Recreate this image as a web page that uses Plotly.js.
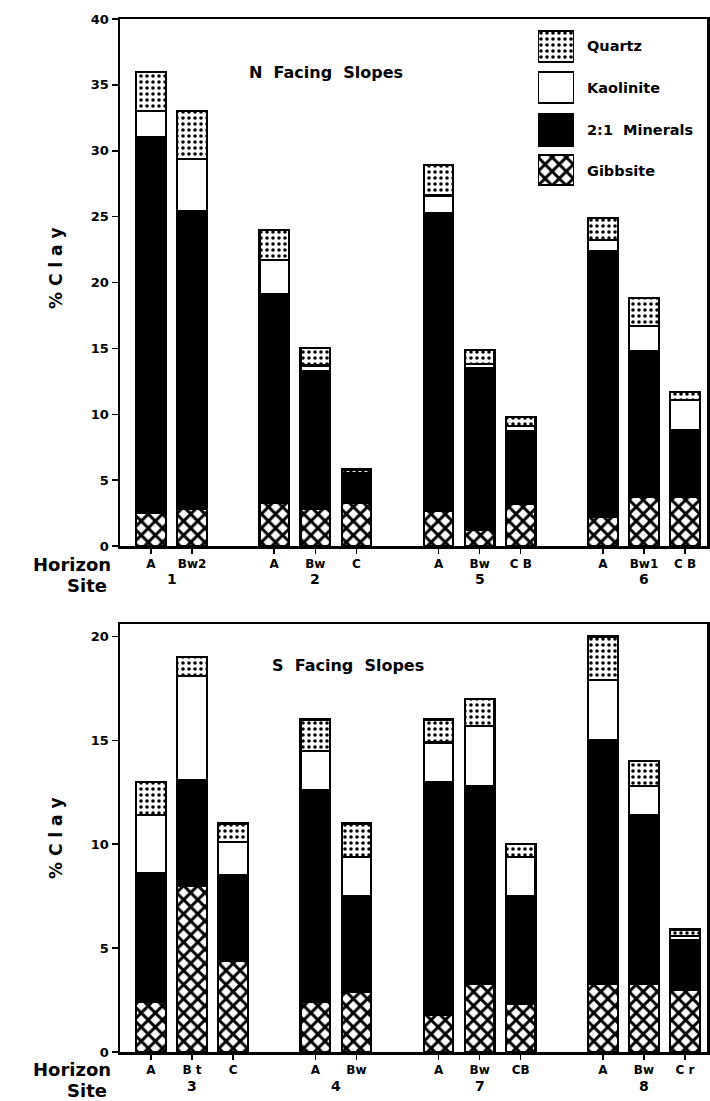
<!DOCTYPE html>
<html>
<head>
<meta charset="utf-8">
<script src="https://cdn.plot.ly/plotly-3.0.1.min.js"></script>
<style>html,body{margin:0;padding:0;background:#fff;}#chart{width:710px;height:1101px;}</style>
</head>
<body>
<div id="chart"></div>
<script>
// ---- N facing slopes (top panel) ----
const topPos = [0, 1, 3, 4, 5, 7, 8, 9, 11, 12, 13];
const topHorizon = ['A', 'Bw2', 'A', 'Bw', 'C', 'A', 'Bw', 'C B', 'A', 'Bw1', 'C B'];
const topGibbsite = [2.5, 2.8, 3.3, 2.8, 3.3, 2.7, 1.2, 3.2, 2.2, 3.7, 3.7];
const topMinerals21 = [28.5, 22.6, 15.8, 10.5, 2.0, 22.6, 12.3, 5.5, 20.2, 11.1, 5.1];
const topKaolinite = [2.0, 4.0, 2.6, 0.4, 0.2, 1.3, 0.3, 0.4, 0.8, 1.9, 2.3];
const topQuartz = [3.0, 3.6, 2.3, 1.3, 0.3, 2.3, 1.1, 0.7, 1.7, 2.1, 0.6];
const topSites = ['1', '2', '5', '6'];
const topSiteCenters = [0.5, 4, 8, 12];

// ---- S facing slopes (bottom panel) ----
const botPos = [0, 1, 2, 4, 5, 7, 8, 9, 11, 12, 13];
const botHorizon = ['A', 'B t', 'C', 'A', 'Bw', 'A', 'Bw', 'CB', 'A', 'Bw', 'C r'];
const botGibbsite = [2.4, 8.0, 4.4, 2.4, 2.9, 1.8, 3.3, 2.3, 3.3, 3.3, 3.0];
const botMinerals21 = [6.2, 5.1, 4.1, 10.2, 4.6, 11.2, 9.5, 5.2, 11.7, 8.1, 2.4];
const botKaolinite = [2.8, 5.0, 1.6, 1.9, 1.9, 1.9, 2.9, 1.9, 2.9, 1.4, 0.2];
const botQuartz = [1.6, 0.9, 0.9, 1.5, 1.6, 1.1, 1.3, 0.6, 2.1, 1.2, 0.3];
const botSites = ['3', '4', '7', '8'];
const botSiteCenters = [1, 4.5, 8, 12];

const mineralNames = ['Gibbsite', '2:1  Minerals', 'Kaolinite', 'Quartz'];

// ---- styles ----
const FONT = 'DejaVu Sans';
const outline = {color: 'black', width: 2.2};
const styles = {
  'Gibbsite': {color: 'white', pattern: {shape: 'x', fgcolor: 'black', bgcolor: 'white', size: 10, solidity: 0.5}},
  '2:1  Minerals': {color: 'black'},
  'Kaolinite': {color: 'white'},
  'Quartz': {color: 'white', pattern: {shape: '.', fgcolor: 'black', bgcolor: 'white', size: 6, solidity: 0.28}}
};

function marker(name) {
  const s = styles[name];
  const m = {color: s.color, line: outline};
  if (s.pattern) m.pattern = s.pattern;
  return m;
}

const traces = [];
const topSeries = [topGibbsite, topMinerals21, topKaolinite, topQuartz];
const botSeries = [botGibbsite, botMinerals21, botKaolinite, botQuartz];
mineralNames.forEach((name, i) => {
  traces.push({type: 'bar', x: topPos, y: topSeries[i], name: name, width: 0.72,
    marker: marker(name), xaxis: 'x', yaxis: 'y', showlegend: false, hoverinfo: 'skip'});
});
mineralNames.forEach((name, i) => {
  traces.push({type: 'bar', x: botPos, y: botSeries[i], name: name, width: 0.72,
    marker: marker(name), xaxis: 'x2', yaxis: 'y2', showlegend: false, hoverinfo: 'skip'});
});

// Legend swatches drawn as bars on a hidden overlay axis (units = pixels)
const legendOrder = ['Quartz', 'Kaolinite', '2:1  Minerals', 'Gibbsite'];
const swatchBase = [125, 84, 41, 2];
const swatchH = [31, 31, 32, 30];
legendOrder.forEach((name, i) => {
  traces.push({type: 'bar', x: [0], y: [swatchH[i]], base: [swatchBase[i]], width: 1,
    marker: marker(name), xaxis: 'x3', yaxis: 'y3', showlegend: false, hoverinfo: 'skip'});
});

// pixel helpers for layout (plot area: left 120, right 707, top 18, bottom 1052)
const L = 120, R = 707, T = 18, B = 1052;
const px = p => (p - L) / (R - L);
const py = p => (B - p) / (B - T);

const tickFont = {family: FONT, size: 12, color: 'black', weight: 'bold'};
const xRange = [(L - 151) / 41.08, (R - 151) / 41.08];

function xAxis(pos, labels, anchor) {
  return {range: xRange, tickmode: 'array', tickvals: pos, ticktext: labels,
    ticks: 'outside', ticklen: 5, tickwidth: 1.5, tickcolor: 'black',
    showline: true, linecolor: 'black', linewidth: 2.5, mirror: true,
    showgrid: false, zeroline: false, tickfont: tickFont, anchor: anchor, fixedrange: true};
}
function yAxis(domain, range, tickvals, anchor) {
  return {domain: domain, range: range, tickmode: 'array', tickvals: tickvals,
    ticks: 'outside', ticklen: 6, tickwidth: 1.5, tickcolor: 'black',
    showline: true, linecolor: 'black', linewidth: 2.5, mirror: true,
    showgrid: false, zeroline: false, tickfont: {family: FONT, size: 13, color: 'black', weight: 'bold'},
    anchor: anchor, fixedrange: true};
}

const annotations = [];
function ann(o) {
  annotations.push(Object.assign({showarrow: false, font: {family: FONT, size: 12, color: 'black', weight: 'bold'}}, o));
}
// site numbers
topSites.forEach((s, i) => ann({text: s, x: topSiteCenters[i], xref: 'x', y: py(579), yref: 'paper', yanchor: 'middle', xanchor: 'center', font: {family: FONT, size: 14, color: 'black', weight: 'bold'}}));
botSites.forEach((s, i) => ann({text: s, x: botSiteCenters[i], xref: 'x2', y: py(1086), yref: 'paper', yanchor: 'middle', xanchor: 'center', font: {family: FONT, size: 14, color: 'black', weight: 'bold'}}));
// Horizon / Site labels
[[564, 585], [1069, 1090]].forEach(([h, s]) => {
  ann({text: 'Horizon', x: px(113), xref: 'paper', y: py(h), yref: 'paper', xanchor: 'right', yanchor: 'middle', font: {family: FONT, size: 18, color: 'black', weight: 'bold'}});
  ann({text: 'Site', x: px(109), xref: 'paper', y: py(s), yref: 'paper', xanchor: 'right', yanchor: 'middle', font: {family: FONT, size: 18, color: 'black', weight: 'bold'}});
});
// y titles
[[268], [838]].forEach(([c]) => {
  ann({text: '% C l a y', x: px(56), xref: 'paper', y: py(c), yref: 'paper', xanchor: 'center', yanchor: 'middle', textangle: -90, font: {family: FONT, size: 17, color: 'black', weight: 'bold'}});
});
// panel titles
ann({text: 'N  Facing  Slopes', x: px(326), xref: 'paper', y: py(72), yref: 'paper', xanchor: 'center', yanchor: 'middle', font: {family: FONT, size: 16, color: 'black', weight: 'bold'}});
ann({text: 'S  Facing  Slopes', x: px(348), xref: 'paper', y: py(665), yref: 'paper', xanchor: 'center', yanchor: 'middle', font: {family: FONT, size: 16, color: 'black', weight: 'bold'}});
// legend text
const legendY = [46, 88, 130, 171];
legendOrder.forEach((name, i) => ann({text: name, x: px(585), xref: 'paper', y: py(legendY[i]), yref: 'paper', xanchor: 'left', yanchor: 'middle', font: {family: FONT, size: 14.5, color: 'black', weight: 'bold'}}));

const layout = {
  width: 710, height: 1101,
  margin: {l: L, r: 710 - R, t: T, b: 1101 - B},
  paper_bgcolor: 'white', plot_bgcolor: 'white',
  barmode: 'stack', bargap: 0,
  showlegend: false,
  xaxis: xAxis(topPos, topHorizon, 'y'),
  yaxis: yAxis([py(546), py(19)], [0, 40], [0, 5, 10, 15, 20, 25, 30, 35, 40], 'x'),
  xaxis2: xAxis(botPos, botHorizon, 'y2'),
  yaxis2: yAxis([0, py(624)], [0, 20.6], [0, 5, 10, 15, 20], 'x2'),
  xaxis3: {domain: [px(538), px(574)], range: [-0.5, 0.5], visible: false, anchor: 'y3', fixedrange: true},
  yaxis3: {domain: [py(187), py(30)], range: [0, 157], visible: false, anchor: 'x3', fixedrange: true},
  annotations: annotations
};

Plotly.newPlot('chart', traces, layout, {staticPlot: true, displayModeBar: false});
</script>
</body>
</html>
